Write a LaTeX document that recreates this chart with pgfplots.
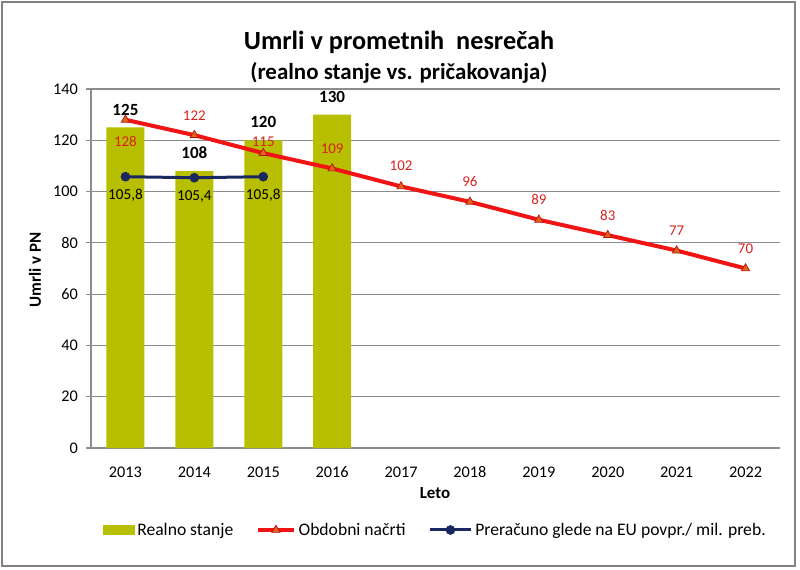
\documentclass[border=0pt]{standalone}
\usepackage{fontspec}
\setmainfont{Carlito}
\usepackage{pgfplots}
\pgfplotsset{compat=1.18}
\definecolor{barolive}{RGB}{184,190,0}
\definecolor{redline}{RGB}{240,20,20}
\definecolor{redlab}{RGB}{215,35,30}
\definecolor{trifill}{RGB}{225,100,25}
\definecolor{navyline}{RGB}{25,40,95}
\definecolor{gridgray}{RGB}{140,140,140}
\definecolor{framegray}{RGB}{130,130,130}
\pgfplotsset{
  barlegend/.style={legend image code/.code={\fill[barolive] (0pt,-3.75pt) rectangle (24pt,3.75pt);}},
  redlegend/.style={legend image code/.code={\draw[##1] (0pt,0pt) -- (27pt,0pt); \draw[##1] plot coordinates {(13.5pt,0pt)};}},
  bluelegend/.style={legend image code/.code={\draw[##1] (0pt,0pt) -- (31pt,0pt); \draw[##1] plot coordinates {(15.5pt,0pt)};}},
}
\begin{document}
\begin{tikzpicture}
\path[use as bounding box] (0pt,0pt) rectangle (600pt,426.75pt);
\draw[framegray, line width=1.2pt] (1.5pt,2.25pt) rectangle (596.25pt,425.25pt);
\node[font=\bfseries\fontsize{19.7}{22}\selectfont, anchor=base] at (299.25pt,389.25pt) {Umrli v prometnih\ \ nesrečah};
\node[font=\bfseries\fontsize{17.2}{19}\selectfont, anchor=base] at (299.25pt,366.75pt) {(realno stanje vs. pričakovanja)};
\node[font=\bfseries\fontsize{12.7}{15}\selectfont, rotate=90] at (26.25pt,224.25pt) {Umrli v PN};
\node[font=\bfseries\fontsize{12.7}{15}\selectfont] at (326.25pt,57pt) {Leto};
\begin{axis}[
  at={(68.25pt,90.75pt)}, anchor=south west, scale only axis,
  width=516.75pt, height=269.25pt,
  xmin=-0.5, xmax=9.5, ymin=0, ymax=140,
  ytick={0,20,...,140},
  xtick={0,...,9},
  xticklabels={2013,2014,2015,2016,2017,2018,2019,2020,2021,2022},
  axis x line*=bottom, axis y line*=left,
  x axis line style={draw=gridgray, line width=1.1pt},
  y axis line style={draw=gridgray, line width=0.8pt},
  ymajorgrids, grid style={draw=gridgray, line width=0.8pt},
  tick align=outside, major tick length=3.75pt,
  xtick style={draw=none},
  ytick style={draw=gridgray, line width=0.8pt},
  ticklabel style={font=\fontsize{12.2}{14}\selectfont},
  /pgf/number format/assume math mode=true,
  xticklabel style={yshift=-6pt, text height=8.5pt, text depth=0pt},
  yticklabel style={xshift=-2.5pt},
  legend columns=3,
  legend style={draw=none, fill=none, at={(axis description cs:0.5,-0.2284)}, anchor=center,
    font=\fontsize{13.2}{15}\selectfont,
    /tikz/every even column/.append style={column sep=15pt}},
  legend cell align=left,
]
\addplot[ybar, bar width=28.5pt, fill=barolive, draw=none,
  nodes near coords,
  every node near coord/.style={font=\bfseries\fontsize{12.8}{15}\selectfont, text=black, anchor=center, yshift=13.5pt},
  barlegend]
  coordinates {(0,125) (1,108) (2,120) (3,130)};
\addlegendentry{Realno stanje}
\addplot[color=redline, line width=3pt, mark=triangle*, mark size=3.6pt,
  mark options={fill=trifill, draw=redline!75!black, line width=0.5pt},
  nodes near coords,
  visualization depends on={\thisrow{off}\as\myoff},
  every node near coord/.style={font=\fontsize{11.2}{13}\selectfont, text=redlab, anchor=center, yshift=\myoff pt},
  redlegend]
  table {
x y off
0 128 -16
1 122 15
2 115 8.5
3 109 15
4 102 15.5
5 96 15
6 89 15
7 83 15
8 77 15
9 70 15
};
\addlegendentry{Obdobni načrti}
\addplot[color=navyline, line width=2.25pt, mark=*, mark size=3.4pt,
  mark options={fill=navyline, draw=navyline, line width=0.4pt},
  nodes near coords,
  /pgf/number format/.cd, fixed, fixed zerofill, precision=1, use comma, assume math mode=true,
  /pgfplots/.cd,
  every node near coord/.style={font=\fontsize{11.4}{13}\selectfont, text=black, anchor=center, yshift=-14pt},
  bluelegend]
  coordinates {(0,105.8) (1,105.4) (2,105.8)};
\addlegendentry{Preračuno glede na EU povpr./ mil. preb.}
\end{axis}
\end{tikzpicture}
\end{document}
